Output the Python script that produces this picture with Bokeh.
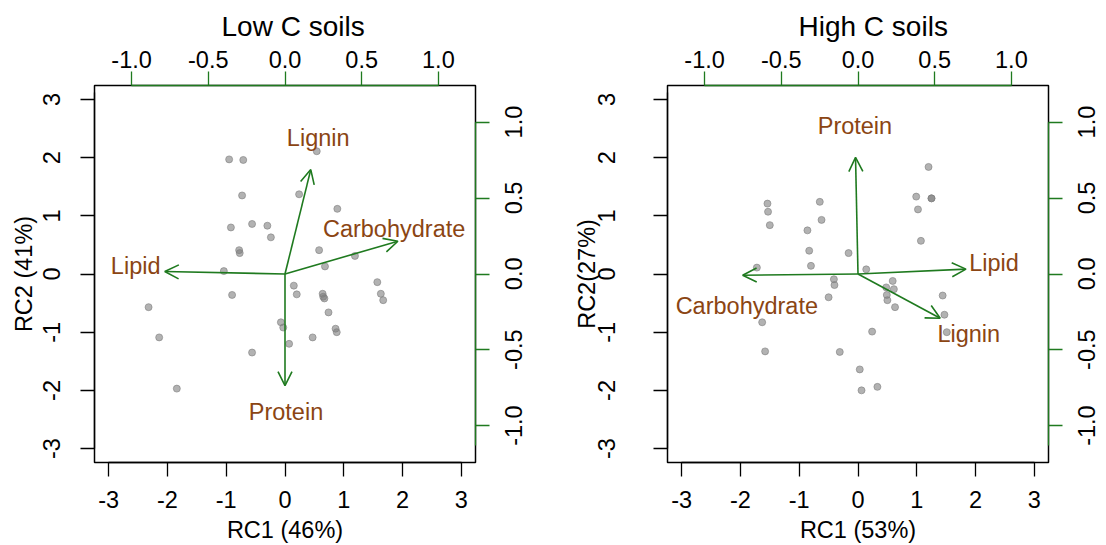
from bokeh.plotting import figure
from bokeh.models import (Range1d, LinearAxis, FixedTicker, Arrow, OpenHead,
                          ColumnDataSource, NumeralTickFormatter,
                          CustomJSTickFormatter)
from bokeh.layouts import row
from bokeh.embed import file_html
from bokeh.resources import INLINE
from bokeh.core.properties import value

FONT = "Liberation Sans"
GREEN = "#1f7a1f"
BROWN = "#8b4513"
FS_PX = 23.5
FS = "23.5px"

# ---------------- data ----------------
score_ticks = [-3, -2, -1, 0, 1, 2, 3]
load_ticks = [-1.0, -0.5, 0.0, 0.5, 1.0]
score_tick_labels = ["-3", "-2", "-1", "0", "1", "2", "3"]
load_tick_labels = ["-1.0", "-0.5", "0.0", "0.5", "1.0"]

low_rc1 = [0.54, -0.95, -0.71, -0.73, 0.24, 0.89, -0.92, -0.56, -0.30, -0.24,
           -0.78, -0.77, 0.58, 1.19, 0.68, -1.04, 0.15, 0.20, -0.90, 0.64,
           0.65, 0.67, 0.74, 1.57, 1.63, 1.67, -2.32, -2.14, -1.84, -0.07,
           -0.03, 0.07, 0.47, 0.86, 0.88, -0.56]
low_rc2 = [2.11, 1.97, 1.96, 1.35, 1.37, 1.12, 0.80, 0.86, 0.83, 0.63,
           0.41, 0.36, 0.41, 0.31, 0.13, 0.05, -0.20, -0.35, -0.36, -0.34,
           -0.39, -0.42, -0.66, -0.14, -0.34, -0.45, -0.57, -1.09, -1.97, -0.83,
           -0.92, -1.20, -1.09, -0.94, -1.00, -1.35]
low_vars = ["Lignin", "Carbohydrate", "Lipid", "Protein"]
low_load1 = [0.21, 0.92, -0.98, 0.00]
low_load2 = [0.86, 0.27, 0.02, -0.92]

high_rc1 = [1.20, 0.99, 1.25, 1.25, 1.02, 1.07, -1.54, -1.53, -1.50, -0.65,
            -0.62, -0.86, -0.83, -0.80, -0.16, 0.14, -1.72, -0.41, -0.40, -0.50,
            0.59, 0.48, 0.61, 0.49, 0.50, 0.63, 1.44, 1.47, 1.51, -1.63,
            -1.58, -0.31, 0.24, 0.03, 0.06, 0.33]
high_rc2 = [1.84, 1.33, 1.30, 1.30, 1.11, 0.57, 1.21, 1.07, 0.84, 1.24,
            0.93, 0.75, 0.40, 0.14, 0.36, 0.08, 0.11, -0.09, -0.19, -0.40,
            -0.12, -0.23, -0.26, -0.36, -0.45, -0.57, -0.37, -0.70, -1.00, -0.83,
            -1.33, -1.34, -0.99, -1.64, -2.00, -1.94]
high_vars = ["Protein", "Lipid", "Carbohydrate", "Lignin"]
high_load1 = [-0.02, 0.88, -0.94, 0.67]
high_load2 = [0.96, 0.04, -0.01, -0.365]

LIM = 3.24
LLIM = 1.242
FRAME = 381  # frame height in px


def half_width_px(s):
    em = sum(0.333 if c == "-" else 0.278 if c == "." else 0.556 for c in s)
    return em * FS_PX / 2.0


def style_vertical(ax, ticks, labels, col, px_per_unit, sign, standoff):
    # rotated (reading upward) labels, centred on their ticks: Bokeh anchors
    # rotated labels at one end, so labels sit on shifted major ticks and the
    # visible tick marks are drawn as minor ticks at the true positions.
    shifted = [t + sign * half_width_px(s) / px_per_unit
               for t, s in zip(ticks, labels)]
    ax.ticker = FixedTicker(ticks=shifted, minor_ticks=ticks)
    ax.formatter = CustomJSTickFormatter(args=dict(labels=labels),
                                         code="return labels[index];")
    lo = min(ticks[0], min(shifted))
    hi = max(ticks[-1], max(shifted))
    ax.bounds = (lo - 1e-6, hi + 1e-6)
    ax.major_tick_line_color = None
    ax.minor_tick_line_color = col
    ax.minor_tick_line_width = 1.3
    ax.minor_tick_out = 14
    ax.minor_tick_in = 0
    ax.major_label_orientation = 1.5707963267948966
    ax.major_label_standoff = standoff


def make_biplot(title, xlab, ylab, rc1, rc2, names, l1, l2, nudge_x, nudge_y,
                bl, br, title_off, ytick_std, ylab_std):
    p = figure(width=553, height=545, x_range=Range1d(-LIM, LIM),
               y_range=Range1d(-LIM, LIM), output_backend="svg",
               toolbar_location=None, min_border_left=bl, min_border_right=br,
               min_border_top=85, min_border_bottom=79)
    p.extra_x_ranges = {"load": Range1d(-LLIM, LLIM)}
    p.extra_y_ranges = {"load": Range1d(-LLIM, LLIM)}
    p.xgrid.visible = False
    p.ygrid.visible = False
    p.outline_line_color = "black"
    p.outline_line_width = 1.5
    p.background_fill_color = "white"
    p.border_fill_color = "white"

    p.title.text = title
    p.title.align = "left"
    p.title.offset = title_off
    p.title.text_font = FONT
    p.title.text_font_size = "28px"
    p.title.text_font_style = "normal"
    p.title.text_color = "black"
    p.title.standoff = 11

    bottom = p.below[0]
    left = p.left[0]
    top = LinearAxis(x_range_name="load")
    right = LinearAxis(y_range_name="load")
    p.add_layout(top, "above")
    p.add_layout(right, "right")

    for ax, ticks, col, fmt in [(bottom, score_ticks, "black", "0"),
                                (left, score_ticks, "black", "0"),
                                (top, load_ticks, GREEN, "0.0"),
                                (right, load_ticks, GREEN, "0.0")]:
        ax.ticker = FixedTicker(ticks=ticks)
        ax.formatter = NumeralTickFormatter(format=fmt)
        ax.bounds = (ticks[0], ticks[-1])
        ax.axis_line_color = col
        ax.axis_line_width = 1.3
        ax.major_tick_line_color = col
        ax.major_tick_line_width = 1.3
        ax.major_tick_out = 14
        ax.major_tick_in = 0
        ax.minor_tick_line_color = None
        ax.major_label_text_font = FONT
        ax.major_label_text_font_size = FS
        ax.major_label_text_color = "black"
        ax.axis_label_text_font = FONT
        ax.axis_label_text_font_size = FS
        ax.axis_label_text_font_style = "normal"
        ax.axis_label_text_color = "black"

    bottom.axis_label = xlab
    bottom.major_label_standoff = 14
    bottom.axis_label_standoff = 6
    top.major_label_standoff = 4

    style_vertical(left, score_ticks, score_tick_labels, "black",
                   FRAME / (2 * LIM), +1, ytick_std)
    left.axis_label = ylab
    left.axis_label_standoff = ylab_std
    style_vertical(right, load_ticks, load_tick_labels, GREEN,
                   FRAME / (2 * LLIM), -1, 24)

    p.scatter(rc1, rc2, size=7, fill_color="#7f7f7f", fill_alpha=0.6,
              line_color="#7f7f7f", line_alpha=0.6)

    src = ColumnDataSource(dict(
        xe=[v * 0.8 for v in l1], ye=[v * 0.8 for v in l2],
        xs=[0] * len(l1), ys=[0] * len(l1),
        lx=l1, ly=l2, name=names, dx=nudge_x, dy=nudge_y))
    arrows = Arrow(source=src, x_start="xs", y_start="ys", x_end="xe", y_end="ye",
                   x_range_name="load", y_range_name="load",
                   line_color=GREEN, line_width=1.6,
                   end=OpenHead(size=14, line_color=GREEN, line_width=1.6))
    p.add_layout(arrows)
    p.text(x="lx", y="ly", text="name", source=src, x_offset="dx", y_offset="dy",
           x_range_name="load", y_range_name="load",
           text_font=value(FONT), text_font_size=FS, text_color=BROWN,
           text_align="center", text_baseline="middle")
    return p


p1 = make_biplot("Low C soils", "RC1 (46%)", "RC2 (41%)", low_rc1, low_rc2,
                 low_vars, low_load1, low_load2,
                 [1, -32, 1, 1], [-5, -4, -5, -2], 94, 78, 127, 29, -5)
p2 = make_biplot("High C soils", "RC1 (53%)", "RC2(27%)", high_rc1, high_rc2,
                 high_vars, high_load1, high_load2,
                 [0, 1, 33, 8], [-2, -5, 30, 5], 114, 57, 131, 47, -13)

layout = row(p1, p2)
open("out.html", "w").write(file_html(layout, INLINE))
